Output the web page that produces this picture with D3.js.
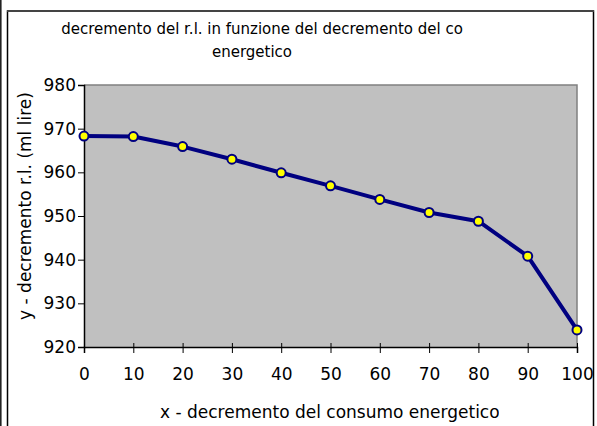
<html lang="it">
<head>
  <meta charset="utf-8">
  <title>decremento del r.l.</title>
  <script src="https://d3js.org/d3.v7.min.js"></script>
  <style>
    body { margin: 0; background: #fff; }
    text { font-family: "DejaVu Sans", Verdana, sans-serif; fill: #000; }
  </style>
</head>
<body>
  <script>
    const xValues = [0, 10, 20, 30, 40, 50, 60, 70, 80, 90, 100];
    const yValues = [968.3, 968.2, 965.9, 963.0, 959.9, 956.9, 953.8, 950.8, 948.8, 940.8, 923.9];
    const yTicks = [920, 930, 940, 950, 960, 970, 980];
    const titleLines = ["decremento del r.l. in funzione del decremento del co", "energetico"];
    const xTitle = "x - decremento del consumo energetico";
    const yTitle = "y - decremento r.l. (ml lire)";

    const width = 597, height = 426;
    const plot = { left: 84, right: 577, top: 85, bottom: 347 };

    const svg = d3.select("body").append("svg")
      .attr("width", width).attr("height", height);

    const defs = svg.append("defs");
    defs.append("clipPath").attr("id", "frameClip")
      .append("rect").attr("x", 8).attr("y", 12).attr("width", 585).attr("height", 420);
    defs.append("clipPath").attr("id", "xTitleClip")
      .append("rect").attr("x", 8).attr("y", 380).attr("width", 491).attr("height", 50);

    // stray edge on far left
    svg.append("line").attr("x1", 0.8).attr("x2", 0.8).attr("y1", 0).attr("y2", height)
      .attr("stroke", "#222").attr("stroke-width", 1.6);

    const x = d3.scaleLinear().domain([0, 100]).range([plot.left, plot.right]);
    const y = d3.scaleLinear().domain([920, 980]).range([plot.bottom, plot.top]);

    const g = svg.append("g").attr("clip-path", "url(#frameClip)");

    // plot area
    g.append("rect")
      .attr("x", plot.left).attr("y", plot.top)
      .attr("width", plot.right - plot.left).attr("height", plot.bottom - plot.top)
      .attr("fill", "#c0c0c0");
    g.append("path")
      .attr("d", `M${plot.left},${plot.top}H${plot.right}V${plot.bottom}`)
      .attr("fill", "none").attr("stroke", "#808080").attr("stroke-width", 1.5);

    // title
    g.selectAll(".title").data(titleLines).enter().append("text")
      .attr("class", "title")
      .attr("x", (d, i) => i === 0 ? 262 : 252)
      .attr("y", (d, i) => 34 + i * 23)
      .attr("text-anchor", "middle")
      .attr("font-size", 15)
      .text(d => d);

    // axes
    const yAxis = d3.axisLeft(y).tickValues(yTicks).tickSize(6).tickPadding(2).tickFormat(d3.format("d"));
    const gy = g.append("g").attr("transform", `translate(${plot.left},0)`).call(yAxis);
    gy.select(".domain").attr("stroke", "#000").attr("stroke-width", 1.5);
    gy.selectAll(".tick line").attr("stroke", "#000");
    gy.selectAll(".tick text").attr("font-size", 17).attr("font-family", "DejaVu Sans").attr("fill", "#000");

    const xAxis = d3.axisBottom(x).tickValues(xValues).tickSize(6).tickPadding(15).tickFormat(d3.format("d"));
    const gx = g.append("g").attr("transform", `translate(0,${plot.bottom})`).call(xAxis);
    gx.select(".domain").attr("stroke", "#000").attr("stroke-width", 1.5);
    gx.selectAll(".tick line").attr("stroke", "#000").attr("y1", -4);
    gx.selectAll(".tick text").attr("font-size", 17).attr("font-family", "DejaVu Sans").attr("fill", "#000");

    // series
    const pts = xValues.map((v, i) => [v, yValues[i]]);
    g.append("path").datum(pts)
      .attr("d", d3.line().x(d => x(d[0])).y(d => y(d[1])))
      .attr("fill", "none").attr("stroke", "#000080").attr("stroke-width", 4)
      .attr("stroke-linejoin", "round");
    g.selectAll(".pt").data(pts).enter().append("circle")
      .attr("class", "pt")
      .attr("cx", d => x(d[0])).attr("cy", d => y(d[1]))
      .attr("r", 4.5)
      .attr("fill", "#ffff00").attr("stroke", "#000080").attr("stroke-width", 2);

    // axis titles
    svg.append("text")
      .attr("clip-path", "url(#xTitleClip)")
      .attr("x", 160).attr("y", 418)
      .attr("font-size", 17)
      .text(xTitle);
    svg.append("text")
      .attr("transform", "translate(31,206) rotate(-90)")
      .attr("text-anchor", "middle")
      .attr("font-size", 17)
      .text(yTitle);

    // chart frame
    svg.append("path")
      .attr("d", "M7.5,430V11H593.5V430")
      .attr("fill", "none").attr("stroke", "#000").attr("stroke-width", 1.5);
    svg.append("line").attr("x1", 7).attr("x2", 594).attr("y1", 11).attr("y2", 11)
      .attr("stroke", "#444").attr("stroke-width", 2);
  </script>
</body>
</html>
